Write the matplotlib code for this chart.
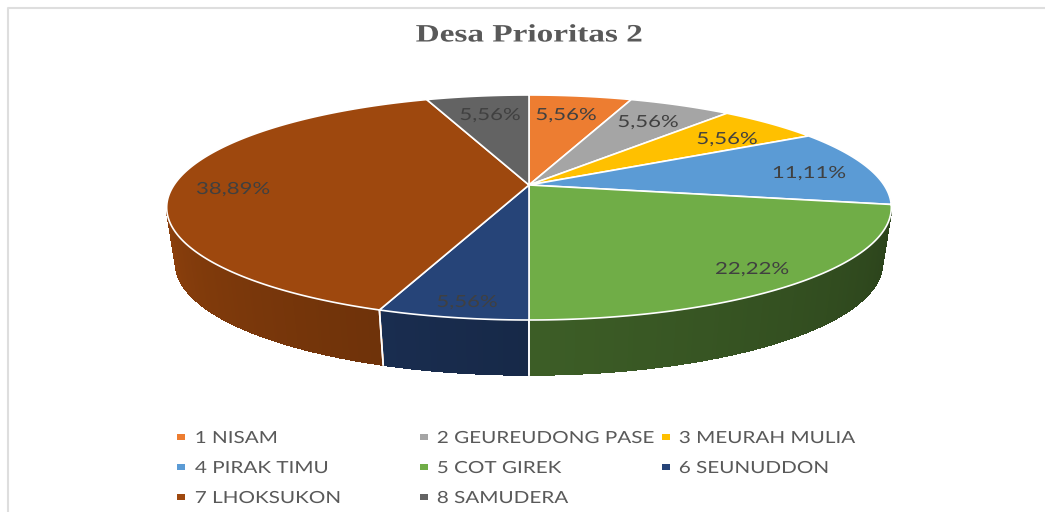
import numpy as np
import matplotlib
matplotlib.use("Agg")
import matplotlib.pyplot as plt
from matplotlib.patches import Polygon, Rectangle
from matplotlib.collections import PolyCollection
from matplotlib.colors import to_rgb
from matplotlib.patheffects import AbstractPathEffect
from matplotlib.transforms import Affine2D

# --- data ---
title = "Desa Prioritas 2"
categories = ["1 NISAM", "2 GEUREUDONG PASE", "3 MEURAH MULIA", "4 PIRAK TIMU",
              "5 COT GIREK", "6 SEUNUDDON", "7 LHOKSUKON", "8 SAMUDERA"]
shares = [5.56, 5.56, 5.56, 11.11, 22.22, 5.56, 38.89, 5.56]
colors = ["#ED7D31", "#A5A5A5", "#FFC000", "#5B9BD5", "#70AD47", "#264478", "#9E480E", "#636363"]

# --- layout (pixels) ---
W, H = 1045, 512
CX, TOP_CY, TOP_A, TOP_B = 529, 185, 108, 355
BOT_CY, BOT_A, BOT_B = 241, 107, 346
PERSP = 0.2
label_xy = [(566, 115), (648, 122), (727, 139), (809, 173),
            (752, 269), (467, 302), (233, 189), (490, 115)]
legend_col = [177, 420, 662]
legend_text = [195, 437, 679]
legend_row = [438, 468, 498]
# side-wall brightness (at start, at end of the slice, clockwise)
side_shade = {4: (0.38, 0.54), 5: (0.60, 0.66), 6: (0.70, 0.88)}
LABEL_STRETCH = 1.33
LEGEND_STRETCH = 1.24


class Stretch(AbstractPathEffect):
    """Widen the text glyphs horizontally (the reference picture is stretched)."""

    def __init__(self, sx, anchor="center"):
        super().__init__()
        self.sx, self.anchor = sx, anchor

    def draw_path(self, renderer, gc, tpath, affine, rgbFace=None):
        ext = tpath.get_extents(affine)
        x0 = ext.x0 if self.anchor == "left" else (ext.x0 + ext.x1) / 2
        t = affine + Affine2D().translate(-x0, 0).scale(self.sx, 1).translate(x0, 0)
        renderer.draw_path(gc, tpath, t, rgbFace)


def project(theta_deg, cy, a, b):
    t = np.radians(theta_deg)
    u, v = np.sin(t), np.cos(t)
    d = 1 + PERSP * v
    return CX + b * u / d, cy - a * v / d


fig = plt.figure(figsize=(W / 100, H / 100), dpi=100, facecolor="white")
ax = fig.add_axes([0, 0, 1, 1])
ax.set_xlim(0, W)
ax.set_ylim(H, 0)
ax.axis("off")

# chart-area frame: only the top and left edges are visible
ax.plot([8, 8, W], [H, 8, 8], color="#dedede", lw=1.5, zorder=0)

total = sum(shares)
edges = np.concatenate([[0], np.cumsum(shares)]) / total * 360

# side wall
VIS_START, VIS_END = 102.5, 257.5
for i, (s, e) in enumerate(zip(edges[:-1], edges[1:])):
    lo, hi = max(s, VIS_START), min(e, VIS_END)
    if lo >= hi:
        continue
    th = np.linspace(lo, hi, 120)
    xt, yt = project(th, TOP_CY, TOP_A, TOP_B)
    xb, yb = project(th, BOT_CY, BOT_A, BOT_B)
    f0, f1 = side_shade.get(i, (0.6, 0.6))
    base = np.array(to_rgb(colors[i]))
    quads, cols = [], []
    for k in range(len(th) - 1):
        quads.append([(xt[k], yt[k]), (xt[k + 1], yt[k + 1]), (xb[k + 1], yb[k + 1]), (xb[k], yb[k])])
        cols.append(base * (f0 + (f1 - f0) * k / (len(th) - 2)))
    ax.add_collection(PolyCollection(quads, facecolors=cols, edgecolors=cols, linewidths=0.8,
                                     antialiaseds=False, zorder=2))
    for t0 in (s, e):
        if VIS_START < t0 < VIS_END:
            x0, y0 = project(t0, TOP_CY, TOP_A, TOP_B)
            x1, y1 = project(t0, BOT_CY, BOT_A, BOT_B)
            ax.plot([x0, x1], [y0, y1], color="white", lw=1.2, zorder=3)

# top surface
for i, (s, e) in enumerate(zip(edges[:-1], edges[1:])):
    th = np.linspace(s, e, 200)
    xs, ys = project(th, TOP_CY, TOP_A, TOP_B)
    pts = np.column_stack([np.r_[CX, xs], np.r_[TOP_CY, ys]])
    ax.add_patch(Polygon(pts, closed=True, facecolor=colors[i], edgecolor="white",
                         lw=1.2, joinstyle="round", zorder=4))

# data labels
for (x, y), v in zip(label_xy, shares):
    ax.text(x, y, f"{v:.2f}%".replace(".", ","), ha="center", va="center",
            fontsize=12, family="Lato", color="#404040", zorder=5,
            path_effects=[Stretch(LABEL_STRETCH)])

# title
ax.text(529, 35, title, ha="center", va="center", fontsize=18, fontweight="bold",
        family="Liberation Serif", color="#595959", zorder=5,
        path_effects=[Stretch(LABEL_STRETCH)])

# legend
for i, (name, c) in enumerate(zip(categories, colors)):
    row, col = i // 3, i % 3
    y = legend_row[row]
    ax.add_patch(Rectangle((legend_col[col], y - 4), 8, 6, facecolor=c, edgecolor="none", zorder=5))
    ax.text(legend_text[col], y, name, ha="left", va="center", fontsize=12,
            family="Lato", color="#595959", zorder=5,
            path_effects=[Stretch(LEGEND_STRETCH, anchor="left")])

fig.savefig("out.png", dpi=100, facecolor="white")
